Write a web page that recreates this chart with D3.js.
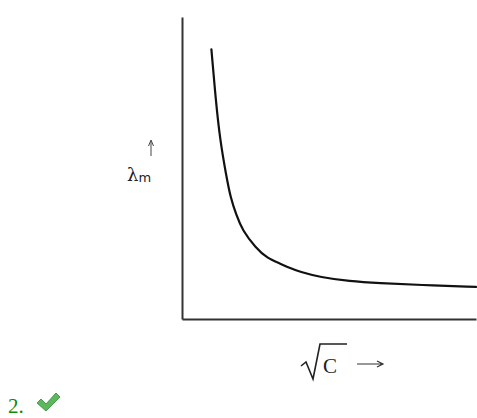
<!DOCTYPE html>
<html>
<head>
<meta charset="utf-8">
<script src="https://cdn.jsdelivr.net/npm/d3@7"></script>
<style>
  body { margin: 0; background: #fff; }
  svg { display: block; }
</style>
</head>
<body>
<div id="chart"></div>
<script>
// values (sqrt C on x, molar conductivity on y, arbitrary units)
var rootC = [1.0, 1.15, 1.3, 1.5, 1.65, 1.85, 2.05, 2.5, 2.9, 3.35, 3.65, 4.0, 4.7, 5.7, 6.7, 8.1, 10];
var lambdaM = [10, 8.1, 6.6, 5.35, 4.5, 3.85, 3.3, 2.65, 2.25, 2.05, 1.9, 1.75, 1.55, 1.4, 1.33, 1.26, 1.19];
var xLabel = "C";
var yLabel = "λ";
var answerLabel = "2.";

var w = 477, h = 418;

var svg = d3.select("#chart").append("svg")
    .attr("width", w)
    .attr("height", h);

var xScale = d3.scaleLinear().domain([0, 10]).range([182, 476]);
var yScale = d3.scaleLinear().domain([0, 11.2]).range([319, 17]);

// axes without ticks, just the two lines
svg.append("g")
    .attr("transform", "translate(0," + yScale(0) + ")")
    .call(d3.axisBottom(xScale).tickValues([]).tickSizeOuter(0))
    .select(".domain")
    .attr("stroke", "#333")
    .attr("stroke-width", 2);

svg.append("g")
    .attr("transform", "translate(" + xScale(0) + ",0)")
    .call(d3.axisLeft(yScale).tickValues([]).tickSizeOuter(0))
    .select(".domain")
    .attr("stroke", "#333")
    .attr("stroke-width", 2);

// the curve
var line = d3.line()
    .x(function(d, i) { return xScale(rootC[i]); })
    .y(function(d) { return yScale(d); })
    .curve(d3.curveBasis);

svg.append("path")
    .datum(lambdaM)
    .attr("d", line)
    .attr("fill", "none")
    .attr("stroke", "#111")
    .attr("stroke-width", 2.2)
    .attr("stroke-linecap", "round");

// y label: arrow up then lambda with subscript m
svg.append("path")
    .attr("d", "M151,156 L151,141 M148.5,146 L151,140 L153.5,146")
    .attr("fill", "none")
    .attr("stroke", "#444")
    .attr("stroke-width", 1);

var lt = svg.append("text")
    .attr("x", 127).attr("y", 181)
    .attr("font-family", "DejaVu Serif, serif")
    .attr("font-size", 18)
    .attr("fill", "#222");
lt.append("tspan").text(yLabel);
lt.append("tspan").attr("font-size", 13).attr("font-family", "DejaVu Sans, sans-serif").attr("dy", 1).text("m");

// x label: radical sign over C then arrow
svg.append("path")
    .attr("d", "M301,366 L306,362 L313,379 L320,344 L347,344")
    .attr("fill", "none")
    .attr("stroke", "#222")
    .attr("stroke-width", 1.6);
svg.append("text")
    .attr("x", 323).attr("y", 373)
    .attr("font-family", "Liberation Serif, serif")
    .attr("font-size", 21)
    .attr("fill", "#222")
    .text(xLabel);
svg.append("path")
    .attr("d", "M357,364 L382,364 M377,361 L383,364 L377,367")
    .attr("fill", "none")
    .attr("stroke", "#333")
    .attr("stroke-width", 1.2);

// answer marker
svg.append("text")
    .attr("x", 8).attr("y", 413)
    .attr("font-family", "Liberation Serif, serif")
    .attr("font-size", 21)
    .attr("fill", "#0a8a0a")
    .text(answerLabel);

svg.append("path")
    .attr("d", "M37,403 L41,399 L46,404 L56,393 L60,397 L46,411 Z")
    .attr("fill", "#5cb85c")
    .attr("stroke", "#4a9a4a")
    .attr("stroke-width", 1)
    .attr("stroke-linejoin", "round");
</script>
</body>
</html>
